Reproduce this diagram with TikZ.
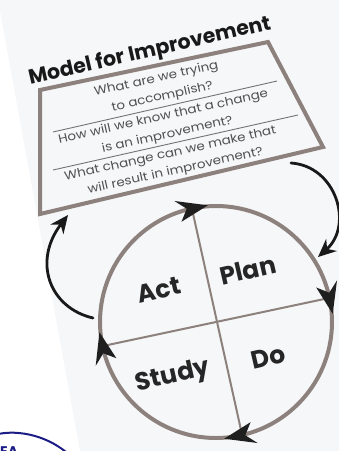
\documentclass[tikz,border=0pt]{standalone}
\usepackage{fontspec}
\setmainfont{Poppins}
\newfontfamily\qfont[FakeStretch=1.12]{Poppins}
\usetikzlibrary{arrows.meta,calc}
\definecolor{ringc}{HTML}{8C817C}
\definecolor{qtext}{HTML}{505050}
\definecolor{navy}{HTML}{1C1C86}
\definecolor{paper}{HTML}{F6F7F9}
\tikzset{
  boxline/.style={draw=ringc, line width=4pt, line join=miter},
  sepline/.style={draw=qtext!80, line width=0.9pt},
  crossline/.style={draw=ringc, line width=2pt},
  ques/.style={text=qtext, font=\qfont\fontsize{12}{13}\selectfont, rotate=12.5, inner sep=0pt, anchor=base},
  titletext/.style={text=black!90, font=\fontsize{20.5}{22}\selectfont\bfseries, rotate=13, inner sep=0pt, anchor=base},
  phase/.style={text=black!85, font=\fontsize{25}{27}\selectfont\bfseries, rotate=13, inner sep=0pt},
  tiphead/.style={fill=black!88},
  bigarrow/.style={draw=black!90, line width=2.8pt, line cap=round, -{Stealth[length=18pt, width=16pt]}}
}
\begin{document}
\begin{tikzpicture}[x=1pt, y=-1pt]
\useasboundingbox (0,0) rectangle (339,451);
\clip (0,0) rectangle (339,451);
% paper
\fill[paper] (-2,0) -- (339,0) -- (339,451) -- (80,451) -- cycle;
% box
\coordinate (b1) at (40,90);
\coordinate (b2) at (268,42);
\coordinate (b3) at (323,147);
\coordinate (b4) at (40,214);
\draw[boxline] (b1) -- (b2) -- (b3) -- (b4) -- cycle;
% title
\node[titletext] (title) at (151,57) {Model for Improvement};
% questions
\node[ques] (q1a) at (157,82) {What are we trying};
\node[ques] (q1b) at (163,100) {to accomplish?};
\coordinate (s1a) at (53,132);
\coordinate (s1b) at (277,81);
\draw[sepline] (s1a) -- (s1b);
\node[ques] (q2a) at (164,120) {How will we know that a change};
\node[ques] (q2b) at (168,138) {is an improvement?};
\coordinate (s2a) at (53,170);
\coordinate (s2b) at (298,115);
\draw[sepline] (s2a) -- (s2b);
\node[ques] (q3a) at (171,157) {What change can we make that};
\node[ques] (q3b) at (176,174) {will result in improvement?};
% cycle
\node[draw=ringc, line width=4pt, circle, minimum size=232pt, inner sep=0pt] (cyc) at (216,322) {};
\draw[crossline] (cyc.102.5) -- (cyc.-77.5);
\draw[crossline] (cyc.12.5) -- (cyc.192.5);
\foreach \t in {-94,-4,86,175} {
  \fill[tiphead] ($(cyc.center)+(\t:117)$) -- ($(cyc.center)+(\t-15:128)$)
    -- ($(cyc.center)+(\t-10.5:117)$) -- ($(cyc.center)+(\t-15:106)$) -- cycle;
}
\node[phase] (plan) at (248,270) {Plan};
\node[phase] (act) at (159,290) {Act};
\node[phase] (study) at (173,377) {Study};
\node[phase] (do) at (268,357) {Do};
% curved arrows
\coordinate (r0) at (291,163);
\coordinate (r1) at (318,257);
\draw[bigarrow] (r0) .. controls (336,166) and (354,225) .. (r1);
\coordinate (l0) at (93,318);
\coordinate (l1) at (68,215);
\draw[bigarrow] (l0) .. controls (50,308) and (32,262) .. (l1);
% logo corner
\draw[navy, line width=2pt] (-10,436) .. controls (15,428) and (45,435) .. (66,452);
\node[text=navy, font=\fontsize{14}{14}\selectfont\bfseries, anchor=north west, inner sep=0pt] (logo) at (0,446) {EA};
\end{tikzpicture}
\end{document}
